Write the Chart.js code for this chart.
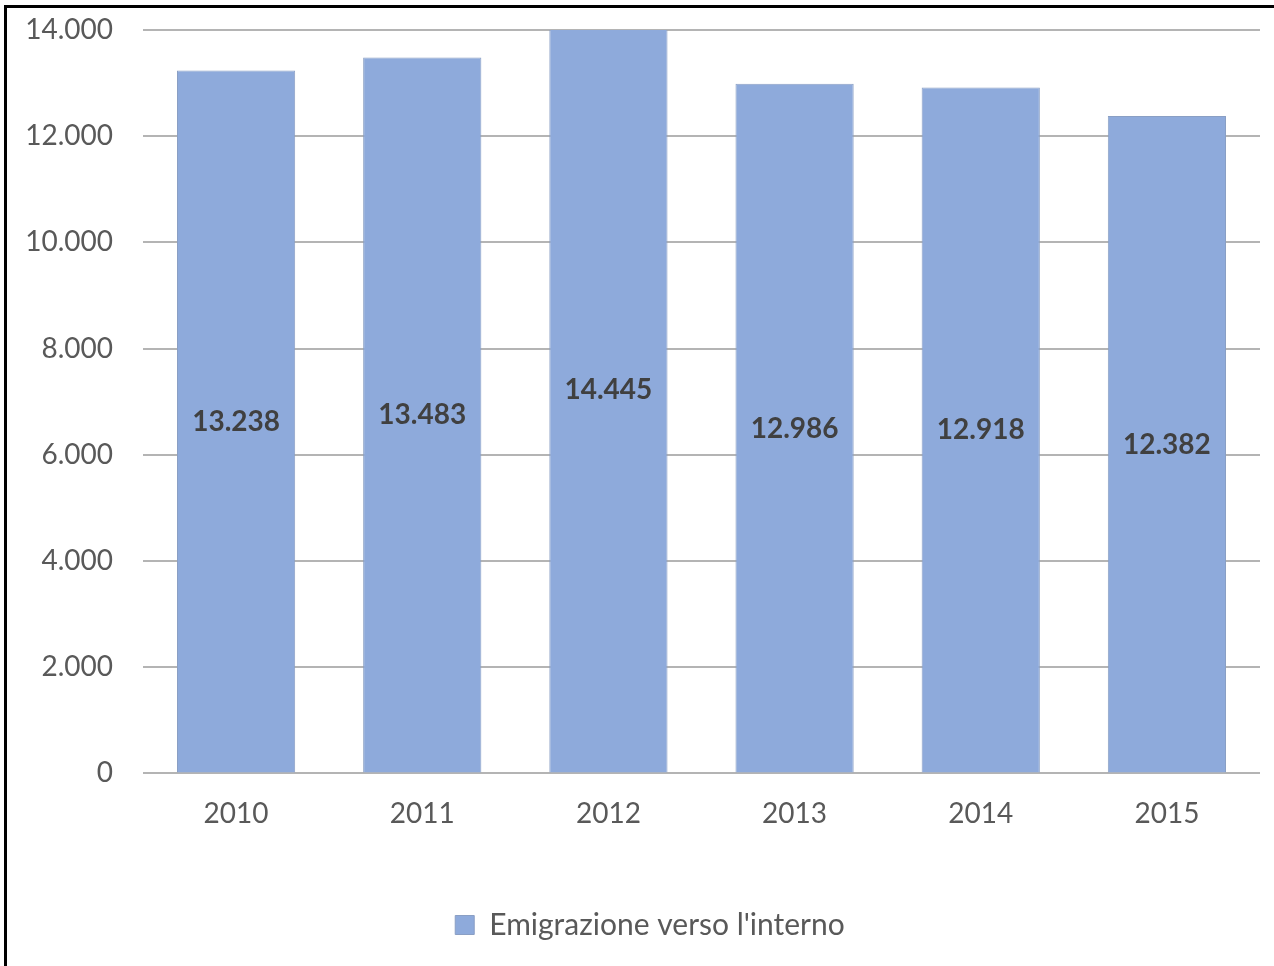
<!DOCTYPE html>
<html>
<head>
<meta charset="utf-8">
<script src="https://cdn.jsdelivr.net/npm/chart.js@4"></script>
<style>
  html, body { margin: 0; padding: 0; background: #fff; overflow: hidden; }
  #frame { position: absolute; left: 4px; top: 5px; width: 1400px; height: 1100px;
           border-left: 3px solid #000; border-top: 3px solid #000; }
  #wrap { position: absolute; left: 0; top: 0; width: 1274px; height: 966px; }
</style>
</head>
<body>
<div id="frame"></div>
<div id="wrap"><canvas id="chart"></canvas></div>
<script>
const years = ["2010", "2011", "2012", "2013", "2014", "2015"];
const emigration = [13238, 13483, 14445, 12986, 12918, 12382];
const yTicks = [0, 2000, 4000, 6000, 8000, 10000, 12000, 14000];

const fmt = v => String(v).replace(/\B(?=(\d{3})+(?!\d))/g, ".");

// value labels in the middle of each bar
const barLabels = {
    id: "barLabels",
    afterLayout(chart) {
        // legend sits a bit right of the canvas centre
        chart.legend.left += 20;
        chart.legend.right += 20;
    },
    afterDatasetsDraw(chart) {
        const ctx = chart.ctx;
        const y = chart.scales.y;
        const meta = chart.getDatasetMeta(0);
        ctx.save();
        ctx.font = "bold 28px Lato";
        ctx.fillStyle = "#404040";
        ctx.textAlign = "center";
        ctx.textBaseline = "middle";
        meta.data.forEach((bar, i) => {
            const v = emigration[i];
            ctx.fillText(fmt(v), bar.x, y.getPixelForValue(v / 2));
        });
        ctx.restore();
    }
};

new Chart(document.getElementById("chart"), {
    type: "bar",
    data: {
        labels: years,
        datasets: [{
            label: "Emigrazione verso l'interno",
            data: emigration,
            backgroundColor: "#8EAADB",
            borderColor: "#8A9FC4",
            borderWidth: 1,
            categoryPercentage: 1,
            barPercentage: 0.635
        }]
    },
    options: {
        responsive: true,
        maintainAspectRatio: false,
        animation: false,
        layout: { padding: { left: 0, right: 14, top: 30, bottom: 16 } },
        plugins: {
            tooltip: { enabled: false },
            legend: {
                position: "bottom",
                labels: {
                    boxWidth: 19,
                    boxHeight: 19,
                    padding: 30,
                    color: "#595959",
                    font: { family: "Lato", size: 30 }
                }
            }
        },
        scales: {
            y: {
                min: 0,
                max: 14000,
                afterBuildTicks: s => { s.ticks = yTicks.map(v => ({ value: v })); },
                afterFit: s => { s.width = 143; s.paddingTop = 0; s.paddingBottom = 0; },
                border: { display: false },
                grid: { color: "#B4B4B4", lineWidth: 2, drawTicks: false },
                ticks: {
                    padding: 30,
                    color: "#595959",
                    font: { family: "Lato", size: 28 },
                    callback: v => fmt(v)
                }
            },
            x: {
                afterFit: s => { s.height += 33; },
                border: { display: false },
                grid: { display: false },
                ticks: {
                    padding: 16,
                    color: "#595959",
                    font: { family: "Lato", size: 28 }
                }
            }
        }
    },
    plugins: [barLabels]
});
</script>
</body>
</html>
